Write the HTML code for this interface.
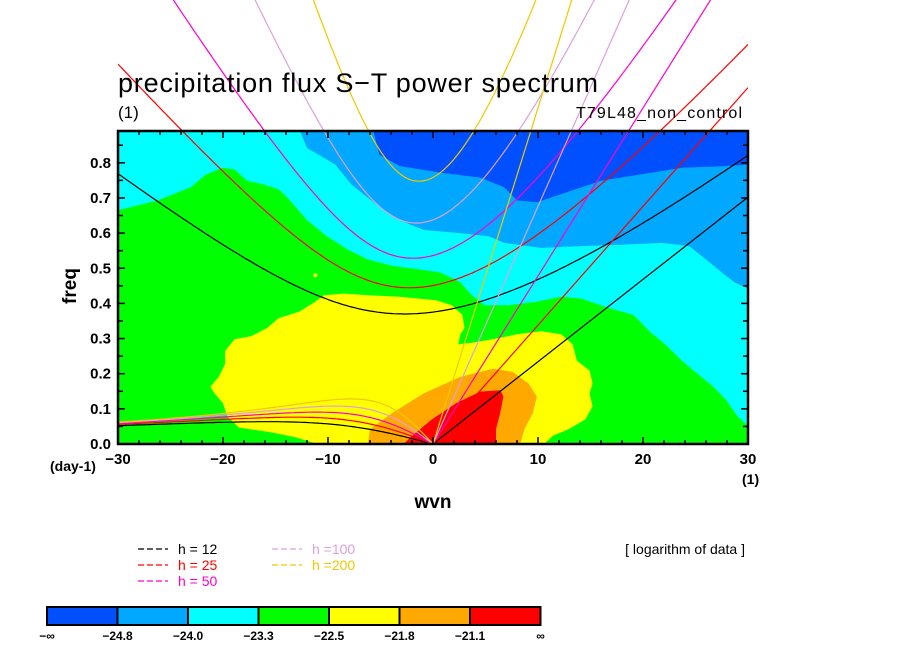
<!DOCTYPE html>
<html><head><meta charset="utf-8"><style>
html,body{margin:0;padding:0;background:#fff;}
svg{display:block;font-family:"Liberation Sans",sans-serif;}
</style></head><body>
<svg id="chart" width="904" height="654" viewBox="0 0 904 654" xmlns="http://www.w3.org/2000/svg">
<defs><clipPath id="plotclip"><rect x="118" y="131" width="630" height="313"/></clipPath>
<clipPath id="xclip"><rect x="118" y="0" width="630" height="444"/></clipPath></defs>
<g id="fills" clip-path="url(#plotclip)"></g>
<g id="curves" clip-path="url(#xclip)"></g>
<g id="axes"></g>
<text x="118" y="92" font-size="27" textLength="480">precipitation flux S−T power spectrum</text>
<text x="118" y="118" font-size="17">(1)</text>
<text x="742" y="118" font-size="16" text-anchor="end" textLength="166">T79L48_non_control</text>
<text transform="translate(76,286) rotate(-90)" font-size="19" font-weight="bold" text-anchor="middle">freq</text>
<text x="433" y="508" font-size="19" font-weight="bold" text-anchor="middle">wvn</text>
<text x="50" y="471" font-size="14" font-weight="bold">(day-1)</text>
<text x="742" y="484" font-size="14" font-weight="bold">(1)</text>
<text x="745" y="554" font-size="14" text-anchor="end">[ logarithm of data ]</text>
<g id="legend"></g>
<g id="colorbar"></g>
</svg>
<script>
// ---- data ----
const xTicks=[-30,-20,-10,0,10,20,30];
const yTicks=[0.0,0.1,0.2,0.3,0.4,0.5,0.6,0.7,0.8];
const depths=[12,25,50,100,200];
const depthColors=["#000000","#ff0000","#ff00cc","#dda0dd","#f0c800"];
const levelLabels=["−∞","−24.8","−24.0","−23.3","−22.5","−21.8","−21.1","∞"];
const levelColors=["#0050ff","#00a8ff","#00ffff","#00ff00","#ffff00","#ffa800","#ff0000"];
// contour boundaries, [wvn, freq]
const darkBlueEdge=[[-6.2,0.89],[-5.1,0.823],[-3.2,0.791],[0.7,0.772],[4.5,0.758],[6.8,0.73],[8,0.693],[9.9,0.688],[12.2,0.711],[16,0.749],[19.8,0.767],[23.7,0.786],[27.5,0.79],[30,0.795],[30,0.89]];
const midBlueEdge=[[-13.5,0.89],[-12,0.842],[-9.3,0.795],[-7.8,0.739],[-5.5,0.684],[-3.2,0.637],[-0.9,0.609],[2.6,0.6],[5.3,0.591],[6.8,0.572],[10.3,0.558],[14.1,0.563],[17.9,0.567],[21.8,0.572],[24.4,0.563],[26,0.525],[27.5,0.488],[28.7,0.46],[30,0.442],[30,0.89]];
const greenEdge=[[-30,0.665],[-28.1,0.679],[-26.2,0.693],[-23.1,0.73],[-21.6,0.767],[-20,0.786],[-18.9,0.781],[-17.7,0.749],[-16.2,0.739],[-14.7,0.725],[-13.9,0.702],[-12,0.637],[-10.1,0.591],[-8.1,0.553],[-6.2,0.525],[-3.9,0.507],[-1.6,0.498],[0.7,0.488],[2.6,0.46],[3.7,0.423],[4.9,0.395],[7.2,0.395],[9.9,0.405],[12.2,0.419],[14.1,0.414],[16.8,0.386],[19.1,0.367],[20.6,0.321],[22.1,0.284],[23.7,0.237],[25.2,0.2],[26.7,0.163],[27.9,0.126],[29,0.079],[30,0.051],[30,0],[-30,0]];
const yellowEdge=[[-10.4,0.423],[-8.5,0.428],[-6.2,0.423],[-3.2,0.419],[0.3,0.409],[1.8,0.395],[2.8,0.367],[3,0.33],[2.6,0.312],[2.4,0.284],[3.7,0.288],[5.7,0.298],[8,0.312],[10.3,0.321],[12.2,0.312],[13.3,0.284],[13.7,0.237],[14.9,0.209],[15.2,0.172],[14.9,0.144],[15.2,0.107],[14.5,0.07],[12.9,0.042],[11.4,0.023],[10.6,0],[-11,0],[-13.1,0.019],[-15.4,0.033],[-18.5,0.047],[-19.6,0.079],[-20,0.116],[-20.8,0.144],[-21.2,0.163],[-20.4,0.191],[-19.8,0.228],[-19.8,0.265],[-18.9,0.298],[-17.3,0.307],[-15.8,0.33],[-14.7,0.358],[-12.7,0.377],[-11.2,0.405]];
const orangeEdge=[[-6.2,0],[-6,0.042],[-3.9,0.088],[-0.9,0.144],[2.6,0.191],[5.7,0.214],[7.6,0.205],[9.1,0.172],[9.9,0.135],[9.5,0.088],[8.7,0.042],[8.3,0]];
const redEdge=[[-2.8,0],[-2,0.023],[-0.1,0.07],[2.2,0.116],[4.5,0.149],[6.4,0.153],[6.7,0.135],[6.4,0.088],[6,0.042],[6,0]];

// ---- axis functions ----
const X0=118,X1=748,Y0=444,PXF=351.5;
const sx=k=>X0+(k+30)/60*(X1-X0);
const sy=f=>Y0-f*PXF;
const NS="http://www.w3.org/2000/svg";
function mk(tag,attrs,parent){const e=document.createElementNS(NS,tag);for(const a in attrs)e.setAttribute(a,attrs[a]);parent.appendChild(e);return e;}
const fills=document.getElementById('fills'),curves=document.getElementById('curves'),axes=document.getElementById('axes');

// fills
let bg=mk('rect',{x:X0,y:131,width:X1-X0,height:Y0-131,fill:levelColors[2]},fills);


const layers=[[midBlueEdge,1,'fill-mid-blue'],[darkBlueEdge,0,'fill-dark-blue'],[greenEdge,3,'fill-green'],[yellowEdge,4,'fill-yellow'],[orangeEdge,5,'fill-orange'],[redEdge,6,'fill-red']];
layers.forEach(([pts,ci,name])=>{
  let p=pts.map(q=>{let f=q[1]>=0.885?0.95:q[1];return sx(q[0]).toFixed(1)+','+sy(f).toFixed(1);}).join(' ');
  const el=mk('polygon',{points:p,fill:levelColors[ci]},fills);
  
  
});
const dot=mk('circle',{cx:sx(-11.2),cy:sy(0.48),r:2,fill:levelColors[4]},fills);



// dispersion curves (Matsuno n=1)
const beta=2*7.292e-5/6.371e6, A=6.371e6;
function roots(kh){const p=-(kh*kh+3),q=-kh;const m=2*Math.sqrt(-p/3);const th=Math.acos(Math.max(-1,Math.min(1,3*q/(2*p)*Math.sqrt(-3/p))))/3;return [0,1,2].map(j=>m*Math.cos(th-2*Math.PI*j/3)).sort((a,b)=>b-a);}
depths.forEach((h,i)=>{
  const c=Math.sqrt(9.81*h),L=Math.sqrt(c/beta),W=Math.sqrt(beta*c)*86400/(2*Math.PI);
  let ig=[],er=[];
  for(let k=-30;k<=30.001;k+=0.25){
    const kh=k/A*L;const r=roots(kh);
    ig.push([k,r[0]*W]);
    if(k<0) er.push([k,r[1]*W]);
  }
  er.push([0,0]);
  const kel=[[0,0],[30,c*30/A*86400/(2*Math.PI)]];
  [[ig,'ig'],[er,'er'],[kel,'kelvin']].forEach(([pts,nm])=>{
    const el=mk('polyline',{points:pts.map(q=>sx(q[0]).toFixed(1)+','+sy(q[1]).toFixed(1)).join(' '),fill:'none',stroke:depthColors[i],'stroke-width':1.2},curves);
    
    
  });
});

// frame + ticks
const fr=mk('rect',{x:X0,y:131,width:X1-X0,height:Y0-131,fill:'none',stroke:'#000','stroke-width':2.5},axes);


for(let k=-30;k<=30;k+=2){const len=(k%10===0)?7:4;
  mk('line',{x1:sx(k),x2:sx(k),y1:Y0,y2:Y0-len,stroke:'#000','stroke-width':1.5},axes);
  mk('line',{x1:sx(k),x2:sx(k),y1:131,y2:131+len,stroke:'#000','stroke-width':1.5},axes);}
for(let j=0;j<=17;j++){const f=j*0.05,len=(j%2===0)?7:5;
  mk('line',{x1:X0,x2:X0+len,y1:sy(f),y2:sy(f),stroke:'#000','stroke-width':1.5},axes);
  mk('line',{x1:X1,x2:X1-len,y1:sy(f),y2:sy(f),stroke:'#000','stroke-width':1.5},axes);}
xTicks.forEach(k=>{const t=mk('text',{x:sx(k),y:464,'font-size':15,'font-weight':'bold','text-anchor':'middle'},axes);t.textContent=(k<0?'−':'')+Math.abs(k);
  
  });
yTicks.forEach(f=>{const t=mk('text',{x:111,y:sy(f)+5,'font-size':15,'font-weight':'bold','text-anchor':'end'},axes);t.textContent=f.toFixed(1);
  
  });

// legend
const leg=document.getElementById('legend');
const legPos=[[138,554],[138,570],[138,586],[272,554],[272,570]];
depths.forEach((h,i)=>{const [x,y]=legPos[i];
  const ln=mk('line',{x1:x,x2:x+30,y1:y-5,y2:y-5,stroke:depthColors[i],'stroke-width':1.2,'stroke-dasharray':'6,3'},leg);
  
  
  const t=mk('text',{x:x+40,y:y,'font-size':14,fill:depthColors[i]},leg);
  t.textContent=h>=100?('h ='+h):('h = '+h);
  
  });

// colorbar
const cb=document.getElementById('colorbar');const cx0=47,cw=70.5;
levelColors.forEach((c,i)=>{const r=mk('rect',{x:cx0+i*cw,y:607,width:cw,height:18,fill:c,stroke:'#000','stroke-width':2},cb);
  
  });
levelLabels.forEach((l,i)=>{const t=mk('text',{x:cx0+i*cw,y:640,'font-size':12,'font-weight':'bold','text-anchor':'middle'},cb);t.textContent=l;
  
  });
</script>
</body></html>
